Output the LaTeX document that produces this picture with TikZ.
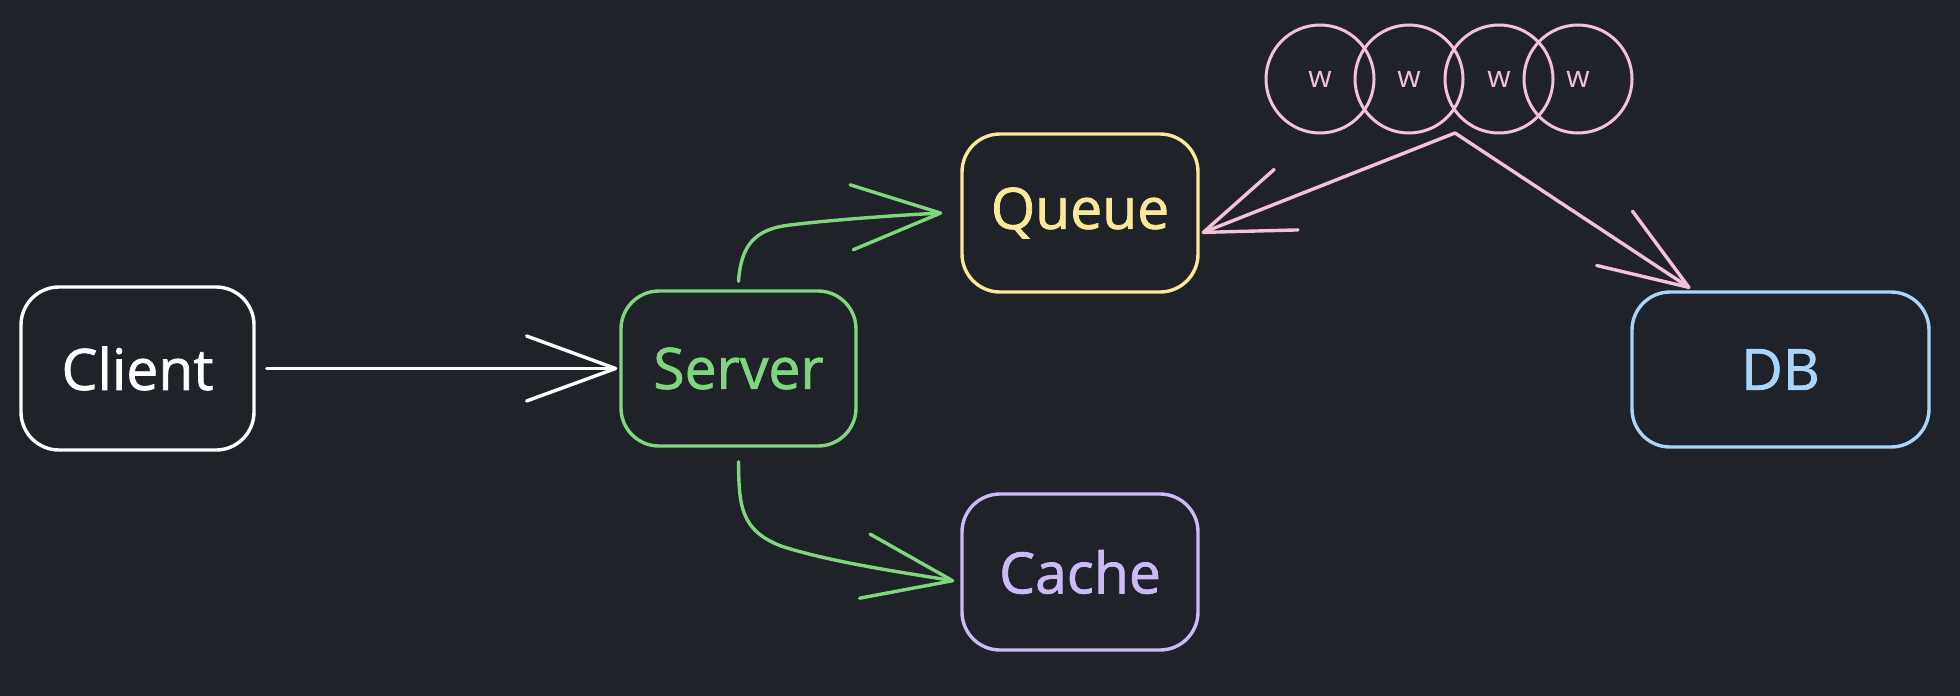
\documentclass[tikz,border=0pt]{standalone}
\usepackage{fontspec}
\setmainfont{Open Sans}
\newfontfamily\labelfont[FakeBold=1.3]{Open Sans}
\usetikzlibrary{arrows.meta,calc}
\definecolor{bg}{HTML}{1F2229}
\definecolor{greenc}{HTML}{80D67F}
\definecolor{yellowc}{HTML}{FBE99A}
\definecolor{lavc}{HTML}{CBBAF6}
\definecolor{bluec}{HTML}{AAD5FA}
\definecolor{pinkc}{HTML}{F4C2D8}
\begin{document}
\begin{tikzpicture}[x=1pt,y=-1pt,
  box/.style={draw, line width=3.4pt, rounded corners=38pt, fill=bg, inner sep=0pt,
    font=\labelfont\fontsize{57}{68}\selectfont},
  worker/.style={circle, draw=pinkc, line width=3pt, minimum size=108pt, inner sep=0pt,
    text=pinkc, font=\fontsize{30}{36}\selectfont},
  arr/.style={line width=3.4pt, line cap=round, line join=round,
    -{Straight Barb[length=89pt,width=65pt,round]}}
]
\fill[bg] (0,0) rectangle (1960,696);
\useasboundingbox (0,0) rectangle (1960,696);

\node[box, draw=white, text=white, minimum width=233pt, minimum height=163pt] (client) at (137.5,368.5) {Client};
\node[box, draw=greenc, text=greenc, minimum width=235pt, minimum height=155pt] (server) at (738.5,368.5) {Server};
\node[box, draw=yellowc, text=yellowc, minimum width=236pt, minimum height=158pt] (queue) at (1080,213) {Queue};
\node[box, draw=lavc, text=lavc, minimum width=236pt, minimum height=156pt] (cache) at (1080,572) {Cache};
\node[box, draw=bluec, text=bluec, minimum width=297pt, minimum height=155pt] (db) at (1780.5,369.5) {DB};

\node[worker] (w1) at (1320,79) {w};
\node[worker] (w2) at (1409,79) {w};
\node[worker] (w3) at (1499,79) {w};
\node[worker] (w4) at (1578,79) {w};

\coordinate (wj) at (1455,133);
\coordinate (sq) at ($(server.north)+(0,-8)$);
\coordinate (qin) at ($(queue.west)+(-18,0)$);
\coordinate (sc) at ($(server.south)+(0,14)$);
\coordinate (cin) at ($(cache.west)+(-6,9)$);
\coordinate (qout) at ($(queue.east)+(2,20)$);
\coordinate (dbin) at ($(db.north west)+(60,-2)$);

\draw[arr, white, shorten <=11pt, shorten >=2pt] (client.east) -- (server.west);
\draw[arr, greenc] (sq) .. controls (741,245) and (755,229) .. (790,225)
  .. controls (830,220) and (900,215) .. (qin);
\draw[arr, greenc] (sc) .. controls (739,505) and (740,530) .. (781,546)
  .. controls (830,562) and (900,572) .. (cin);
\draw[arr, pinkc] (wj) -- (qout);
\draw[arr, pinkc] (wj) -- (dbin);
\end{tikzpicture}
\end{document}
